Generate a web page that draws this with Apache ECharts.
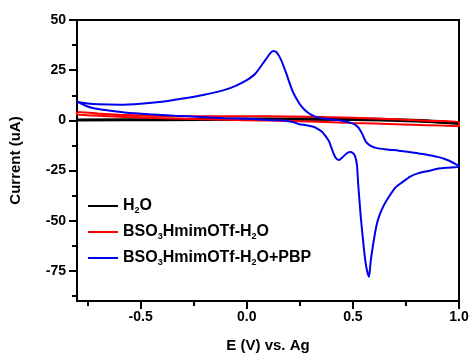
<!DOCTYPE html>
<html>
<head>
<meta charset="utf-8">
<title>Cyclic voltammograms</title>
<script src="https://cdn.jsdelivr.net/npm/echarts@6/dist/echarts.min.js"></script>
<style>
  html, body { margin: 0; padding: 0; background: #fff; }
  #chart { width: 472px; height: 358px; }
</style>
</head>
<body>
<div id="chart"></div>
<script>
// Potential (V vs. Ag) and current (uA) along each closed voltammogram loop
const waterE = [-0.8, -0.4, 0.0, 0.4, 0.7, 0.85, 1.0, 1.0, 0.8, 0.5, 0.0, -0.4, -0.8, -0.8];
const waterI = [0.4, 0.6, 0.9, 1.0, 0.6, 0.0, -1.3, -1.8, -0.6, 0.2, 0.3, 0.1, -0.1, 0.4];

const ilE = [-0.8, -0.7, -0.6, -0.45, -0.3, -0.1, 0.1, 0.3, 0.5, 0.7, 0.85, 1.0,
             1.0, 0.85, 0.7, 0.5, 0.3, 0.1, -0.1, -0.3, -0.5, -0.65, -0.75, -0.8, -0.8];
const ilI = [4.2, 3.4, 2.8, 2.3, 2.1, 2.1, 2.0, 1.8, 1.3, 0.5, -0.2, -1.0,
             -2.9, -2.4, -1.9, -1.3, -0.6, -0.1, 0.3, 0.8, 1.4, 2.0, 2.6, 2.9, 4.2];

const pbpE = [-0.8, -0.75, -0.7, -0.6, -0.5, -0.4, -0.3, -0.2, -0.1, -0.05, 0.0,
              0.04, 0.087, 0.11, 0.125, 0.14, 0.16, 0.184, 0.216, 0.247, 0.27, 0.294, 0.32,
              0.341, 0.38, 0.419, 0.46, 0.497, 0.515, 0.529, 0.545, 0.56, 0.58, 0.607, 0.66,
              0.716, 0.78, 0.842, 0.9, 0.936, 0.97, 1.0,
              0.98, 0.95, 0.904, 0.857, 0.81, 0.77, 0.732, 0.7, 0.669, 0.645, 0.623, 0.61,
              0.599, 0.584, 0.576, 0.563, 0.552, 0.537, 0.525, 0.519, 0.51, 0.5, 0.486, 0.47,
              0.45, 0.435, 0.42, 0.411, 0.4, 0.388, 0.372, 0.356, 0.33, 0.31, 0.28, 0.247,
              0.216, 0.15, 0.083, 0.0, -0.105, -0.22, -0.34, -0.46, -0.575, -0.65, -0.715,
              -0.76, -0.8];
const pbpI = [9.3, 8.4, 8.0, 7.8, 8.3, 9.3, 10.9, 12.8, 15.3, 17.3, 20.0,
              23.2, 30.0, 33.4, 34.6, 34.0, 30.5, 24.0, 14.5, 8.5, 5.5, 3.4, 2.0,
              1.3, 0.7, 0.2, -0.4, -1.5, -2.5, -4.0, -7.0, -10.5, -12.5, -13.7, -14.5,
              -15.1, -16.0, -17.0, -18.2, -19.4, -21.0, -23.0,
              -23.4, -23.6, -24.0, -25.2, -26.3, -28.0, -30.9, -33.5, -38.2, -42.5, -48.0, -53.0,
              -59.5, -70.0, -78.0, -73.0, -64.0, -48.0, -31.7, -22.0, -17.8, -16.3, -15.8, -16.5,
              -18.5, -19.8, -18.8, -17.0, -14.0, -10.5, -8.0, -5.8, -4.0, -3.1, -2.4, -1.9,
              -0.8, 0.0, 0.3, 0.8, 1.1, 1.7, 2.3, 3.0, 3.9, 4.9, 5.9,
              7.3, 9.3];

// Axis ticks
const xMajor = [-0.5, 0.0, 0.5, 1.0];
const xMinor = [-0.75, -0.25, 0.25, 0.75];
const yMajor = [-75, -50, -25, 0, 25, 50];
const yMinor = [-87.5, -62.5, -37.5, -12.5, 12.5, 37.5];

const pairs = (xs, ys) => xs.map((x, i) => [x, ys[i]]);

const tickFont = { color: '#000', fontWeight: 'bold', fontSize: 14, fontFamily: 'Liberation Sans, Arial, sans-serif' };
const titleFont = { color: '#000', fontWeight: 'bold', fontSize: 15, fontFamily: 'Liberation Sans, Arial, sans-serif' };

const xRange = { min: -0.8, max: 1.0 };
const yRange = { min: -90, max: 50 };

const chart = echarts.init(document.getElementById('chart'), null, { renderer: 'canvas' });

chart.setOption({
  animation: false,
  backgroundColor: '#fff',
  grid: {
    left: 77, right: 13, top: 20, bottom: 52,
    show: true, borderColor: '#000', borderWidth: 2, backgroundColor: 'transparent'
  },
  xAxis: [
    {
      type: 'value', ...xRange, position: 'bottom',
      axisLine: { show: true, onZero: false, lineStyle: { color: '#000', width: 2 } },
      axisTick: { show: true, inside: false, length: 8, lineStyle: { color: '#000', width: 2 }, customValues: xMajor },
      axisLabel: { ...tickFont, margin: 9, customValues: xMajor, formatter: v => v.toFixed(1) },
      splitLine: { show: false },
      name: 'E (V) vs. Ag', nameLocation: 'middle', nameGap: 37, nameTextStyle: titleFont
    },
    {
      type: 'value', ...xRange, position: 'bottom',
      axisLine: { show: false, onZero: false },
      axisTick: { show: true, inside: false, length: 5, lineStyle: { color: '#000', width: 2 }, customValues: xMinor },
      axisLabel: { show: false },
      splitLine: { show: false }
    }
  ],
  yAxis: [
    {
      type: 'value', ...yRange, position: 'left',
      axisLine: { show: true, onZero: false, lineStyle: { color: '#000', width: 2 } },
      axisTick: { show: true, inside: false, length: 8, lineStyle: { color: '#000', width: 2 }, customValues: yMajor },
      axisLabel: { ...tickFont, margin: 11, customValues: yMajor },
      splitLine: { show: false },
      name: 'Current (uA)', nameLocation: 'middle', nameGap: 54, nameTextStyle: titleFont
    },
    {
      type: 'value', ...yRange, position: 'left',
      axisLine: { show: false, onZero: false },
      axisTick: { show: true, inside: false, length: 5, lineStyle: { color: '#000', width: 2 }, customValues: yMinor },
      axisLabel: { show: false },
      splitLine: { show: false }
    }
  ],
  legend: {
    orient: 'vertical',
    left: 83, top: 192,
    icon: 'rect', itemWidth: 30, itemHeight: 2, itemGap: 8,
    selectedMode: false,
    data: ['H2O', 'BSO3HmimOTf-H2O', 'BSO3HmimOTf-H2O+PBP'],
    formatter: name => name.replace(/O3/g, 'O{sub|3}').replace(/H2/g, 'H{sub|2}'),
    textStyle: {
      color: '#000', fontWeight: 'bold', fontSize: 16, lineHeight: 18,
      fontFamily: 'Liberation Sans, Arial, sans-serif',
      rich: {
        sub: { fontSize: 9, fontWeight: 'bold', color: '#000', lineHeight: 9, verticalAlign: 'bottom',
               fontFamily: 'Liberation Sans, Arial, sans-serif' }
      }
    }
  },
  series: [
    {
      name: 'H2O', type: 'line', data: pairs(waterE, waterI),
      showSymbol: false, smooth: 0.3, lineStyle: { color: '#000', width: 2 }, itemStyle: { color: '#000' }
    },
    {
      name: 'BSO3HmimOTf-H2O', type: 'line', data: pairs(ilE, ilI),
      showSymbol: false, smooth: 0.3, lineStyle: { color: '#ff0000', width: 2 }, itemStyle: { color: '#ff0000' }
    },
    {
      name: 'BSO3HmimOTf-H2O+PBP', type: 'line', data: pairs(pbpE, pbpI),
      showSymbol: false, smooth: 0.2, lineStyle: { color: '#0000ee', width: 2 }, itemStyle: { color: '#0000ee' }
    }
  ]
});
</script>
</body>
</html>
